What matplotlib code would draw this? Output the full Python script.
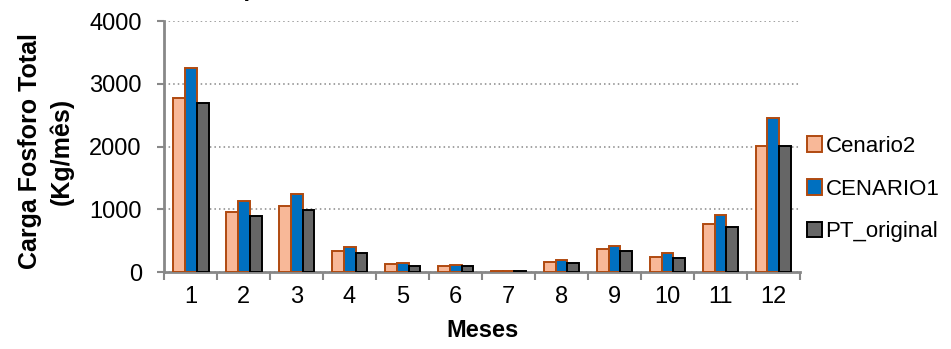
import numpy as np
import matplotlib
matplotlib.use('Agg')
import matplotlib.pyplot as plt
from matplotlib.ticker import FixedLocator, NullFormatter

plt.rcParams['font.family'] = ['Liberation Sans', 'DejaVu Sans']

## dados
meses = ['1', '2', '3', '4', '5', '6', '7', '8', '9', '10', '11', '12']
cenario2 = [2780, 950, 1055, 340, 127, 95, 15, 165, 360, 245, 765, 2015]
cenario1 = [3245, 1130, 1240, 400, 143, 110, 20, 185, 412, 302, 912, 2450]
pt_original = [2700, 900, 995, 308, 100, 88, 12, 150, 330, 228, 722, 2005]
titulo = 'Comparativo entre cenários - Fósforo Total'

fig = plt.figure(figsize=(9.51, 3.49), dpi=100)
ax = fig.add_axes([0.1725, 0.2206, 0.6687, 0.7192])

x = np.arange(1, len(meses) + 1)
w = 0.226
edge = '#B04A10'
ax.bar(x - w, cenario2, w, color='#F8B898', edgecolor=edge, linewidth=1.4, label='Cenario2', zorder=3)
ax.bar(x, cenario1, w, color='#0070C0', edgecolor=edge, linewidth=1.4, label='CENARIO1', zorder=3)
ax.bar(x + w, pt_original, w, color='#666666', edgecolor='black', linewidth=1.4, label='PT_original', zorder=3)

ax.set_xlim(0.5, 12.5)
ax.set_ylim(0, 4000)
ax.set_yticks([0, 1000, 2000, 3000, 4000])
ax.yaxis.grid(True, linestyle=(0, (1, 2)), color='#888888', linewidth=1.1, zorder=0)

# ticks nos limites das categorias, rotulos no centro
ax.xaxis.set_major_locator(FixedLocator(np.arange(0.5, 13, 1)))
ax.xaxis.set_major_formatter(NullFormatter())
ax.xaxis.set_minor_locator(FixedLocator(x))
ax.set_xticklabels(meses, minor=True)
ax.tick_params(axis='x', which='major', length=6, width=1.5, color='#888888', direction='out')
ax.tick_params(axis='x', which='minor', length=0, labelsize=17, pad=10)
ax.tick_params(axis='y', length=5, width=1.5, color='#888888', labelsize=17, pad=11)

for s in ['top', 'right']:
    ax.spines[s].set_visible(False)
for s in ['left', 'bottom']:
    ax.spines[s].set_color('#888888')
    ax.spines[s].set_linewidth(2)

ax.set_xlabel('Meses', fontsize=17, fontweight='bold', labelpad=8)
ax.set_ylabel('Carga Fosforo Total\n(Kg/mês)', fontsize=18, fontweight='bold', linespacing=1.35)
ax.yaxis.set_label_coords(-0.142, 0.48)

# titulo cortado no topo, como no original
fig.text(0.4545, 1.012, titulo, ha='center', va='baseline', fontsize=17, fontweight='bold')

leg = ax.legend(loc='center left', bbox_to_anchor=(1.0, 0.33), frameon=False, fontsize=16,
                handlelength=0.7, handleheight=0.7, handletextpad=0.15, labelspacing=0.98,
                borderaxespad=0.2, borderpad=0.1)

fig.savefig('out.png', dpi=100)
